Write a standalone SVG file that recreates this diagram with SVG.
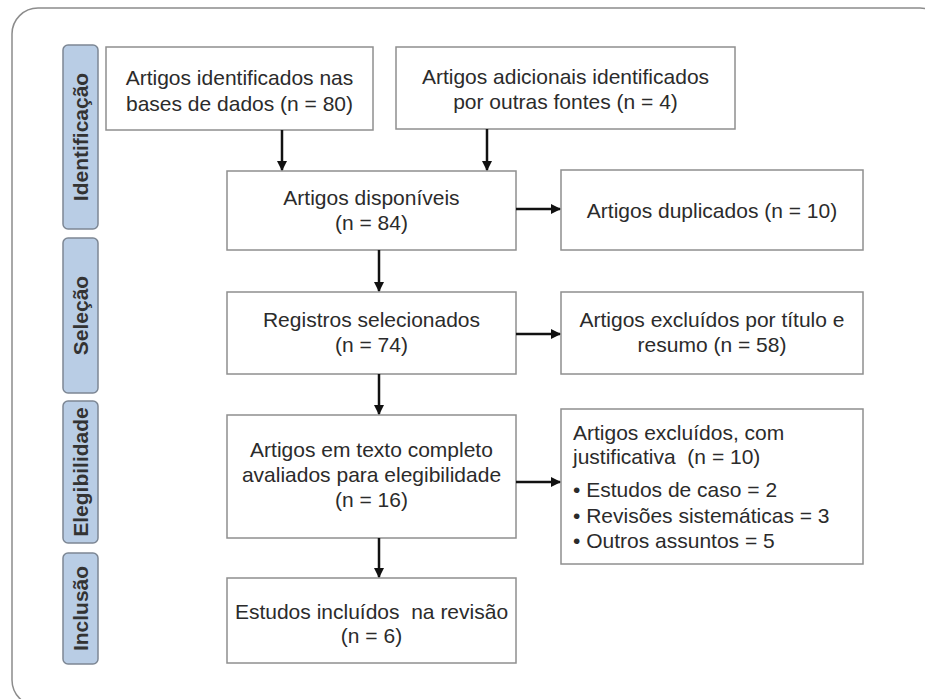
<svg xmlns="http://www.w3.org/2000/svg" width="925" height="699" viewBox="0 0 925 699">
  <defs>
    <marker id="head" viewBox="0 0 10 10" refX="9" refY="5" markerWidth="4" markerHeight="4" orient="auto" markerUnits="strokeWidth">
      <path d="M0,0 L10,5 L0,10 z" fill="#111"/>
    </marker>
    <style>
      .frame { fill: #fff; stroke: #8c8c8c; stroke-width: 1.5; }
      .phase { fill: #b9cde5; stroke: #7d8794; stroke-width: 1.5; }
      .phase-text { font-family: "Liberation Sans", Arial, sans-serif; font-size: 21px; font-weight: bold; fill: #333; text-anchor: middle; }
      .box { fill: #fff; stroke: #8f8f8f; stroke-width: 1.5; }
      .label { font-family: "Liberation Sans", Arial, sans-serif; font-size: 21px; fill: #2b2b2b; text-anchor: middle; }
      .label-left { font-family: "Liberation Sans", Arial, sans-serif; font-size: 21px; fill: #2b2b2b; }
      .edge { stroke: #111; stroke-width: 2.5; fill: none; marker-end: url(#head); }
    </style>
  </defs>

  <rect x="0" y="0" width="925" height="699" fill="#fff"/>
  <!-- outer panel, running past the right and bottom edges -->
  <rect class="frame" x="12" y="8" width="934" height="698" rx="26" ry="26"/>

  <!-- phase labels -->
  <g id="phase-identificacao">
    <rect class="phase" x="63" y="45" width="35" height="184" rx="5"/>
    <text class="phase-text" transform="translate(88,137) rotate(-90)">Identificação</text>
  </g>
  <g id="phase-selecao">
    <rect class="phase" x="63" y="238" width="35" height="155" rx="5"/>
    <text class="phase-text" transform="translate(88,315.5) rotate(-90)">Seleção</text>
  </g>
  <g id="phase-elegibilidade">
    <rect class="phase" x="63" y="401" width="35" height="142" rx="5"/>
    <text class="phase-text" transform="translate(88,472) rotate(-90)">Elegibilidade</text>
  </g>
  <g id="phase-inclusao">
    <rect class="phase" x="63" y="553" width="35" height="111" rx="5"/>
    <text class="phase-text" transform="translate(88,608.5) rotate(-90)">Inclusão</text>
  </g>

  <!-- flow boxes -->
  <g id="n-bases">
    <rect class="box" x="106" y="47" width="267" height="83"/>
    <text class="label" x="239.5" y="85">Artigos identificados nas</text>
    <text class="label" x="239.5" y="111">bases de dados (n = 80)</text>
  </g>
  <g id="n-outras">
    <rect class="box" x="396" y="47" width="339" height="82"/>
    <text class="label" x="565.5" y="84">Artigos adicionais identificados</text>
    <text class="label" x="565.5" y="109">por outras fontes (n = 4)</text>
  </g>
  <g id="n-disponiveis">
    <rect class="box" x="227" y="171" width="289" height="79"/>
    <text class="label" x="371.5" y="205">Artigos disponíveis</text>
    <text class="label" x="371.5" y="230">(n = 84)</text>
  </g>
  <g id="n-duplicados">
    <rect class="box" x="561" y="170" width="302" height="80"/>
    <text class="label" x="712" y="218">Artigos duplicados (n = 10)</text>
  </g>
  <g id="n-registros">
    <rect class="box" x="227" y="292" width="289" height="82"/>
    <text class="label" x="371.5" y="327">Registros selecionados</text>
    <text class="label" x="371.5" y="352">(n = 74)</text>
  </g>
  <g id="n-titulo">
    <rect class="box" x="561" y="292" width="302" height="82"/>
    <text class="label" x="712" y="327">Artigos excluídos por título e</text>
    <text class="label" x="712" y="352">resumo (n = 58)</text>
  </g>
  <g id="n-texto">
    <rect class="box" x="227" y="415" width="289" height="123"/>
    <text class="label" x="371.5" y="457">Artigos em texto completo</text>
    <text class="label" x="371.5" y="482">avaliados para elegibilidade</text>
    <text class="label" x="371.5" y="507">(n = 16)</text>
  </g>
  <g id="n-justificativa">
    <rect class="box" x="561" y="409" width="302" height="155"/>
    <text class="label-left" x="573" y="440">Artigos excluídos, com</text>
    <text class="label-left" x="573" y="464" xml:space="preserve">justificativa  (n = 10)</text>
    <text class="label-left" x="573" y="497">• Estudos de caso = 2</text>
    <text class="label-left" x="573" y="523">• Revisões sistemáticas = 3</text>
    <text class="label-left" x="573" y="548">• Outros assuntos = 5</text>
  </g>
  <g id="n-incluidos">
    <rect class="box" x="227" y="578" width="289" height="85"/>
    <text class="label" x="371.5" y="619" xml:space="preserve">Estudos incluídos  na revisão</text>
    <text class="label" x="371.5" y="643">(n = 6)</text>
  </g>

  <!-- connectors -->
  <g id="connectors">
    <line class="edge" x1="282" y1="130" x2="282" y2="170"/>
    <line class="edge" x1="487" y1="129" x2="487" y2="170"/>
    <line class="edge" x1="516" y1="209" x2="560" y2="209"/>
    <line class="edge" x1="379" y1="250" x2="379" y2="291"/>
    <line class="edge" x1="516" y1="334" x2="560" y2="334"/>
    <line class="edge" x1="379" y1="374" x2="379" y2="414"/>
    <line class="edge" x1="516" y1="482" x2="560" y2="482"/>
    <line class="edge" x1="379" y1="538" x2="379" y2="577"/>
  </g>
</svg>
